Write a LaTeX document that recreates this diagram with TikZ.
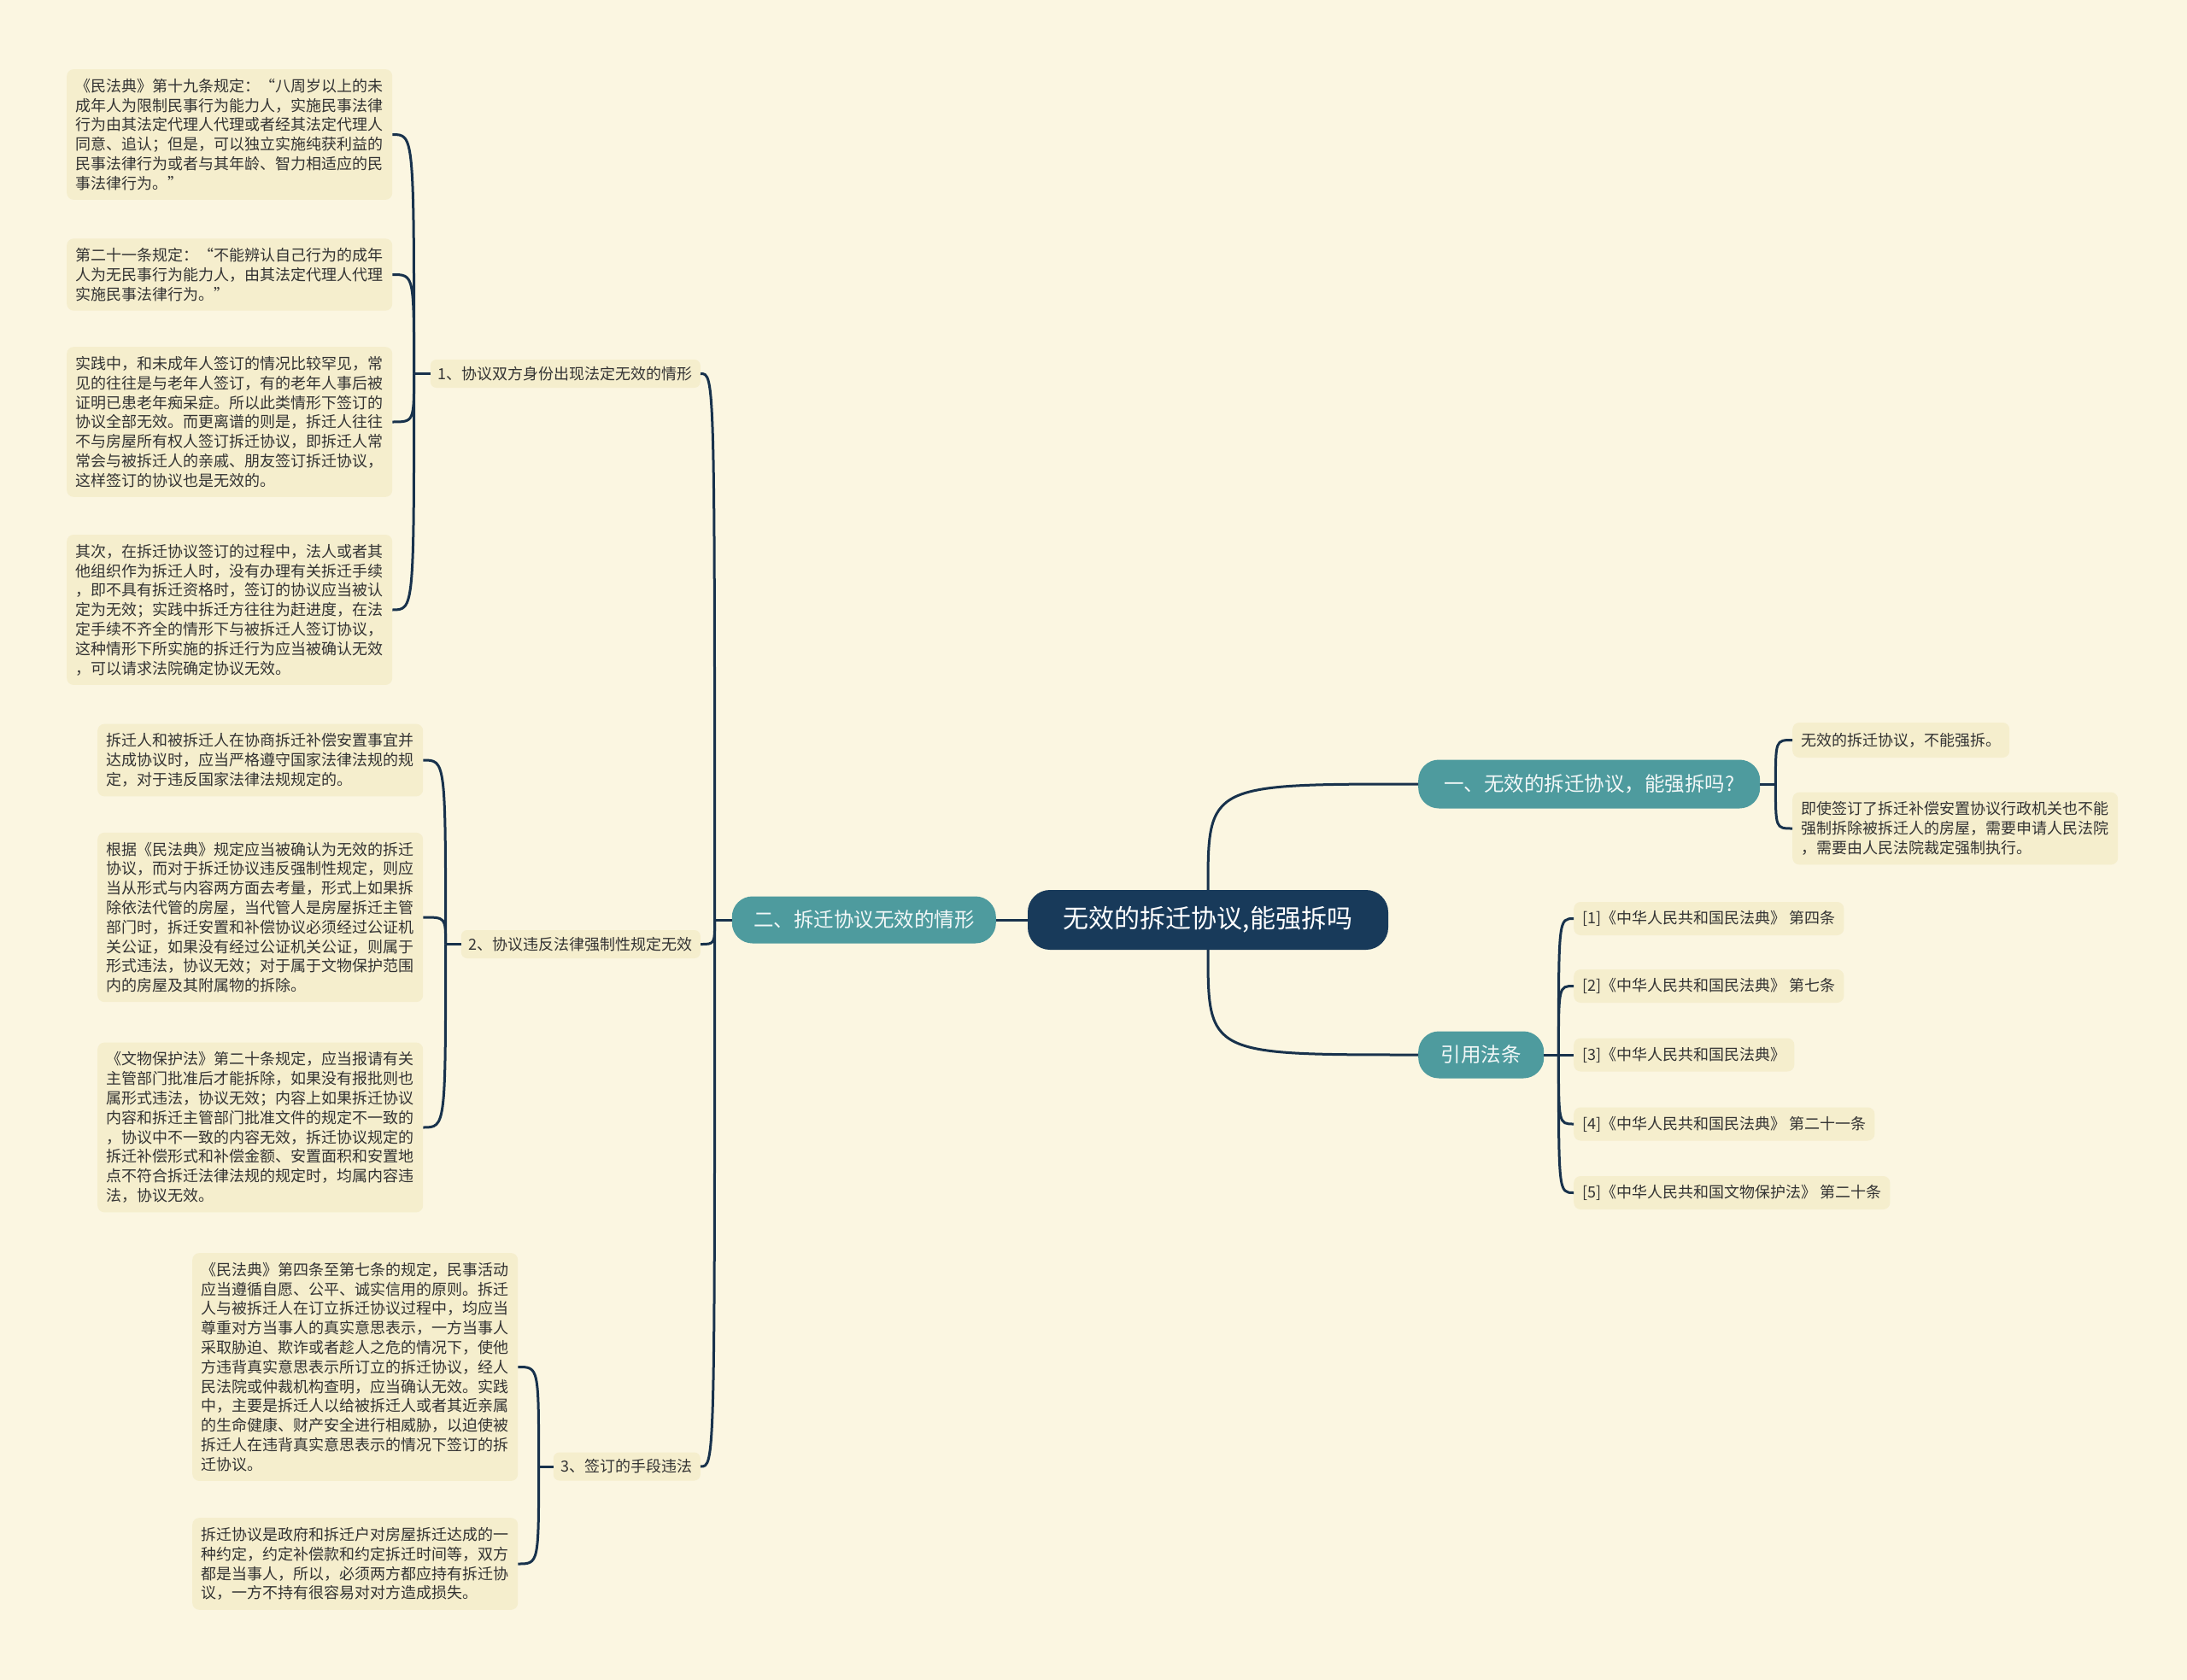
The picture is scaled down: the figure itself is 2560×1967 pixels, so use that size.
\documentclass[tikz,border=0pt]{standalone}
\usepackage{fontspec}
\newfontfamily\cjkfont{Noto Sans CJK SC}
\definecolor{crema}{RGB}{251,246,225}
\definecolor{papel}{RGB}{245,238,205}
\definecolor{turquesa}{RGB}{78,155,158}
\definecolor{marino}{RGB}{24,58,90}
\definecolor{trazo}{RGB}{24,50,76}
\definecolor{tinta}{RGB}{51,51,51}
\tikzset{
  raiz/.style={fill=marino, text=white, rounded corners=26pt, minimum width=422pt,
    minimum height=70pt, font=\cjkfont\fontsize{30}{36}\selectfont},
  rama/.style={fill=turquesa, text=white!92!turquesa, rounded corners=24pt,
    minimum height=55pt, font=\cjkfont\fontsize{23.5}{28}\selectfont},
  subrama/.style={fill=papel, text=tinta, rounded corners=7pt, minimum height=33pt,
    inner xsep=9pt, font=\cjkfont\fontsize{18}{22}\selectfont},
  hoja/.style={fill=papel, text=tinta, rounded corners=8pt, text width=360pt,
    align=left, inner xsep=10.5pt, inner ysep=11pt,
    font=\cjkfont\fontsize{18}{22.8}\selectfont},
  cita/.style={fill=papel, text=tinta, rounded corners=8pt, minimum height=39pt,
    inner xsep=10pt, font=\cjkfont\fontsize{18}{22}\selectfont},
  enlace/.style={draw=trazo, line width=3pt},
}
\begin{document}
\begin{tikzpicture}[x=1pt, y=-1pt]
  % Fondo y margenes
  \fill[crema] (0,0) rectangle (2560,1967);
  \useasboundingbox (0,0) rectangle (2560,1967);
  % Nodo central y ramas principales
  \node[raiz] (raiz) at (1414,1077) {无效的拆迁协议,能强拆吗};
  \node[rama, anchor=west, minimum width=400pt, minimum height=57pt] (uno) at (1660,918) {一、无效的拆迁协议，能强拆吗?};
  \node[rama, anchor=west, minimum width=147pt] (citas) at (1660,1235) {引用法条};
  \node[rama, anchor=east, minimum width=309pt] (dos) at (1166,1077) {二、拆迁协议无效的情形};
  % Subramas de la rama dos
  \node[subrama, anchor=east] (s1) at (820,437.5) {1、协议双方身份出现法定无效的情形};
  \node[subrama, anchor=east] (s2) at (820,1105.5) {2、协议违反法律强制性规定无效};
  \node[subrama, anchor=east] (s3) at (820,1717) {3、签订的手段违法};
  % Hojas de la subrama 1
  \node[hoja, anchor=west] (h1a) at (78,157.5) {《民法典》第十九条规定：“八周岁以上的未\\成年人为限制民事行为能力人，实施民事法律\\行为由其法定代理人代理或者经其法定代理人\\同意、追认；但是，可以独立实施纯获利益的\\民事法律行为或者与其年龄、智力相适应的民\\事法律行为。”};
  \node[hoja, anchor=west] (h1b) at (78,321.5) {第二十一条规定：“不能辨认自己行为的成年\\人为无民事行为能力人，由其法定代理人代理\\实施民事法律行为。”};
  \node[hoja, anchor=west] (h1c) at (78,494) {实践中，和未成年人签订的情况比较罕见，常\\见的往往是与老年人签订，有的老年人事后被\\证明已患老年痴呆症。所以此类情形下签订的\\协议全部无效。而更离谱的则是，拆迁人往往\\不与房屋所有权人签订拆迁协议，即拆迁人常\\常会与被拆迁人的亲戚、朋友签订拆迁协议，\\这样签订的协议也是无效的。};
  \node[hoja, anchor=west] (h1d) at (78,714) {其次，在拆迁协议签订的过程中，法人或者其\\他组织作为拆迁人时，没有办理有关拆迁手续\\，即不具有拆迁资格时，签订的协议应当被认\\定为无效；实践中拆迁方往往为赶进度，在法\\定手续不齐全的情形下与被拆迁人签订协议，\\这种情形下所实施的拆迁行为应当被确认无效\\，可以请求法院确定协议无效。};
  % Hojas de la subrama 2
  \node[hoja, anchor=west] (h2a) at (114,890) {拆迁人和被拆迁人在协商拆迁补偿安置事宜并\\达成协议时，应当严格遵守国家法律法规的规\\定，对于违反国家法律法规规定的。};
  \node[hoja, anchor=west] (h2b) at (114,1074) {根据《民法典》规定应当被确认为无效的拆迁\\协议，而对于拆迁协议违反强制性规定，则应\\当从形式与内容两方面去考量，形式上如果拆\\除依法代管的房屋，当代管人是房屋拆迁主管\\部门时，拆迁安置和补偿协议必须经过公证机\\关公证，如果没有经过公证机关公证，则属于\\形式违法，协议无效；对于属于文物保护范围\\内的房屋及其附属物的拆除。};
  \node[hoja, anchor=west] (h2c) at (114,1320) {《文物保护法》第二十条规定，应当报请有关\\主管部门批准后才能拆除，如果没有报批则也\\属形式违法，协议无效；内容上如果拆迁协议\\内容和拆迁主管部门批准文件的规定不一致的\\，协议中不一致的内容无效，拆迁协议规定的\\拆迁补偿形式和补偿金额、安置面积和安置地\\点不符合拆迁法律法规的规定时，均属内容违\\法，协议无效。};
  % Hojas de la subrama 3
  \node[hoja, anchor=west] (h3a) at (225,1600.5) {《民法典》第四条至第七条的规定，民事活动\\应当遵循自愿、公平、诚实信用的原则。拆迁\\人与被拆迁人在订立拆迁协议过程中，均应当\\尊重对方当事人的真实意思表示，一方当事人\\采取胁迫、欺诈或者趁人之危的情况下，使他\\方违背真实意思表示所订立的拆迁协议，经人\\民法院或仲裁机构查明，应当确认无效。实践\\中，主要是拆迁人以给被拆迁人或者其近亲属\\的生命健康、财产安全进行相威胁，以迫使被\\拆迁人在违背真实意思表示的情况下签订的拆\\迁协议。};
  \node[hoja, anchor=west] (h3b) at (225,1831) {拆迁协议是政府和拆迁户对房屋拆迁达成的一\\种约定，约定补偿款和约定拆迁时间等，双方\\都是当事人，所以，必须两方都应持有拆迁协\\议，一方不持有很容易对对方造成损失。};
  % Hojas de la rama uno
  \node[cita, anchor=west, minimum height=41pt] (u1) at (2098,866.5) {无效的拆迁协议，不能强拆。};
  \node[hoja, anchor=west] (u2) at (2098,970) {即使签订了拆迁补偿安置协议行政机关也不能\\强制拆除被拆迁人的房屋，需要申请人民法院\\，需要由人民法院裁定强制执行。};
  % Citas legales
  \node[cita, anchor=west] (c1) at (1842,1075.5) {[1]《中华人民共和国民法典》 第四条};
  \node[cita, anchor=west] (c2) at (1842,1154.5) {[2]《中华人民共和国民法典》 第七条};
  \node[cita, anchor=west] (c3) at (1842,1235) {[3]《中华人民共和国民法典》};
  \node[cita, anchor=west] (c4) at (1842,1316) {[4]《中华人民共和国民法典》 第二十一条};
  \node[cita, anchor=west] (c5) at (1842,1396.5) {[5]《中华人民共和国文物保护法》 第二十条};
  % Puntos de union
  \path (dos.west) ++(-20,0) coordinate (j2);
  \path (s1.west) ++(-19,0) coordinate (js1);
  \path (s2.west) ++(-18,0) coordinate (js2);
  \path (s3.west) ++(-17,0) coordinate (js3);
  \path (uno.east) ++(18,0) coordinate (ju);
  \path (citas.east) ++(17,0) coordinate (jc);
  % Conexiones del nodo central
  \draw[enlace] (raiz.west) -- (dos.east);
  \draw[enlace] (raiz.north) .. controls (raiz.north |- uno.west) .. (uno.west);
  \draw[enlace] (raiz.south) .. controls (raiz.south |- citas.west) .. (citas.west);
  % Llaves hacia la izquierda
  \draw[enlace] (dos.west) -- (j2);
  \foreach \n in {s1,s2,s3}
    \draw[enlace] (j2) .. controls (j2 |- \n.east) .. (\n.east);
  \draw[enlace] (s1.west) -- (js1);
  \foreach \n in {h1a,h1b,h1c,h1d}
    \draw[enlace] (js1) .. controls (js1 |- \n.east) .. (\n.east);
  \draw[enlace] (s2.west) -- (js2);
  \foreach \n in {h2a,h2b,h2c}
    \draw[enlace] (js2) .. controls (js2 |- \n.east) .. (\n.east);
  \draw[enlace] (s3.west) -- (js3);
  \foreach \n in {h3a,h3b}
    \draw[enlace] (js3) .. controls (js3 |- \n.east) .. (\n.east);
  % Llaves hacia la derecha
  \draw[enlace] (uno.east) -- (ju);
  \foreach \n in {u1,u2}
    \draw[enlace] (ju) .. controls (ju |- \n.west) .. (\n.west);
  \draw[enlace] (citas.east) -- (jc);
  \foreach \n in {c1,c2,c3,c4,c5}
    \draw[enlace] (jc) .. controls (jc |- \n.west) .. (\n.west);
\end{tikzpicture}
\end{document}
